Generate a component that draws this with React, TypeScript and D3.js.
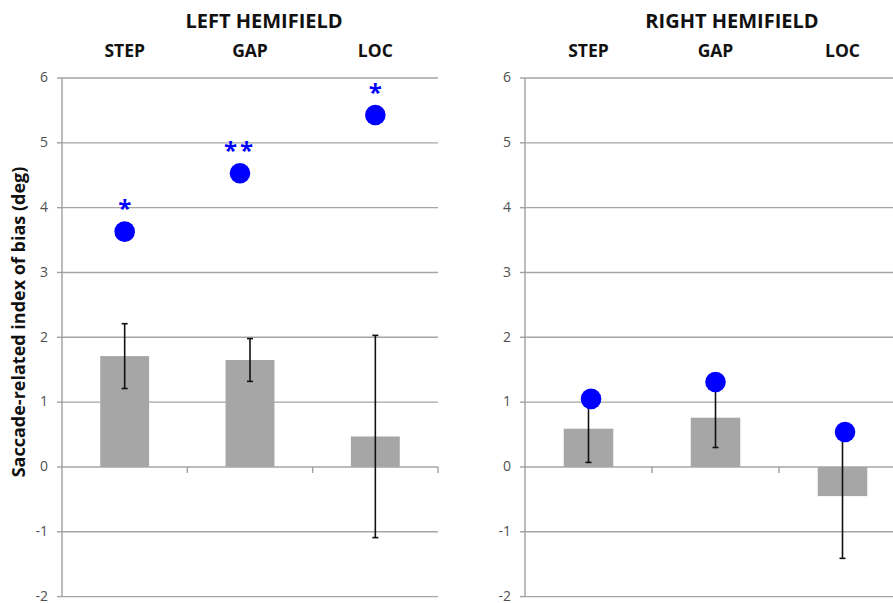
import React from "react";
import * as d3 from "d3";

const categories = ["STEP", "GAP", "LOC"];
const yTicks = [-2, -1, 0, 1, 2, 3, 4, 5, 6];

const leftBars = [1.71, 1.65, 0.47];
const leftErr = [0.5, 0.33, 1.56];
const leftDotX = [1, 1.92, 3];
const leftDotY = [3.63, 4.53, 5.43];
const leftSig = ["*", "**", "*"];

const rightBars = [0.59, 0.76, -0.45];
const rightErr = [0.52, 0.46, 0.96];
const rightDotX = [1.02, 2, 3.02];
const rightDotY = [1.05, 1.31, 0.54];
const rightSig = ["", "", ""];

const W = 893;
const H = 603;
const FONT = "'Open Sans', 'DejaVu Sans', sans-serif";
const GRID = "#a6a6a6";
const BAR = "#a6a6a6";
const DOT = "#0000ff";

const y = d3.scaleLinear().domain([-2, 6]).range([596.6, 78]);

type PanelProps = {
  title: string;
  titleX: number;
  x0: number;
  x1: number;
  bars: number[];
  err: number[];
  dotX: number[];
  dotY: number[];
  sig: string[];
};

function Panel({ title, titleX, x0, x1, bars, err, dotX, dotY, sig }: PanelProps) {
  const xb = d3
    .scaleBand<string>()
    .domain(categories)
    .range([x0, x1])
    .paddingInner(0.61)
    .paddingOuter(0.305);
  const step = xb.step();
  const xl = d3.scaleLinear().domain([0.5, 3.5]).range([x0, x1]);
  const cx = (c: string) => (xb(c) as number) + xb.bandwidth() / 2;
  const starSize = 24;
  return (
    <g>
      <text x={titleX} y={28} textAnchor="middle" fontFamily={FONT} fontWeight={700} fontSize={20} fill="#111">
        {title}
      </text>
      {categories.map((c) => (
        <text key={c} x={cx(c)} y={57} textAnchor="middle" fontFamily={FONT} fontWeight={700} fontSize={17.5} fill="#111">
          {c}
        </text>
      ))}
      {yTicks.map((t) => (
        <line key={t} x1={x0} x2={x1} y1={y(t)} y2={y(t)} stroke={GRID} strokeWidth={1.4} />
      ))}
      <line x1={x0} x2={x0} y1={y(6)} y2={y(-2)} stroke="#a0a0a0" strokeWidth={1.4} />
      {yTicks.map((t) => (
        <g key={"t" + t}>
          <line x1={x0 - 5} x2={x0} y1={y(t)} y2={y(t)} stroke="#a0a0a0" strokeWidth={1.4} />
          <text x={x0 - 14} y={y(t)} dy="0.3em" textAnchor="end" fontFamily={FONT} fontSize={14} fill="#505050">
            {t}
          </text>
        </g>
      ))}
      {categories.map((c, i) => {
        const xx = x0 + step * (i + 1);
        return <line key={"c" + c} x1={xx} x2={xx} y1={y(0)} y2={y(0) + 6} stroke="#a0a0a0" strokeWidth={1.4} />;
      })}
      {categories.map((c, i) => (
        <rect
          key={"b" + c}
          x={xb(c)}
          width={xb.bandwidth()}
          y={Math.min(y(bars[i]), y(0))}
          height={Math.abs(y(bars[i]) - y(0))}
          fill={BAR}
        />
      ))}
      {categories.map((c, i) => {
        const xx = cx(c);
        const top = y(bars[i] + err[i]);
        const bot = y(bars[i] - err[i]);
        return (
          <g key={"e" + c} stroke="#111" strokeWidth={1.6}>
            <line x1={xx} x2={xx} y1={top} y2={bot} />
            <line x1={xx - 3} x2={xx + 3} y1={top} y2={top} />
            <line x1={xx - 3} x2={xx + 3} y1={bot} y2={bot} />
          </g>
        );
      })}
      {dotX.map((dx, i) => (
        <circle key={"d" + i} cx={xl(dx)} cy={y(dotY[i])} r={10.3} fill={DOT} />
      ))}
      {dotX.map((dx, i) =>
        sig[i] ? (
          <text
            key={"s" + i}
            x={xl(dx)}
            y={y(dotY[i]) - 28 + 0.57 * starSize}
            textAnchor="middle"
            fontFamily={FONT}
            fontWeight={700}
            fontSize={starSize}
            letterSpacing={sig[i].length > 1 ? 3 : 0}
            fill={DOT}
          >
            {sig[i]}
          </text>
        ) : null
      )}
    </g>
  );
}

export default function App() {
  return (
    <svg width={W} height={H} style={{ position: "absolute", left: 0, top: 0, background: "#fff" }}>
      <rect x={0} y={0} width={W} height={H} fill="#fff" />
      <Panel
        title="LEFT HEMIFIELD"
        titleX={264}
        x0={62}
        x1={438}
        bars={leftBars}
        err={leftErr}
        dotX={leftDotX}
        dotY={leftDotY}
        sig={leftSig}
      />
      <Panel
        title="RIGHT HEMIFIELD"
        titleX={732}
        x0={525}
        x1={906}
        bars={rightBars}
        err={rightErr}
        dotX={rightDotX}
        dotY={rightDotY}
        sig={rightSig}
      />
      <text
        transform={`translate(25, 322) rotate(-90)`}
        textAnchor="middle"
        fontFamily={FONT}
        fontWeight={700}
        fontSize={18}
        fill="#111"
      >
        Saccade-related index of bias (deg)
      </text>
    </svg>
  );
}
